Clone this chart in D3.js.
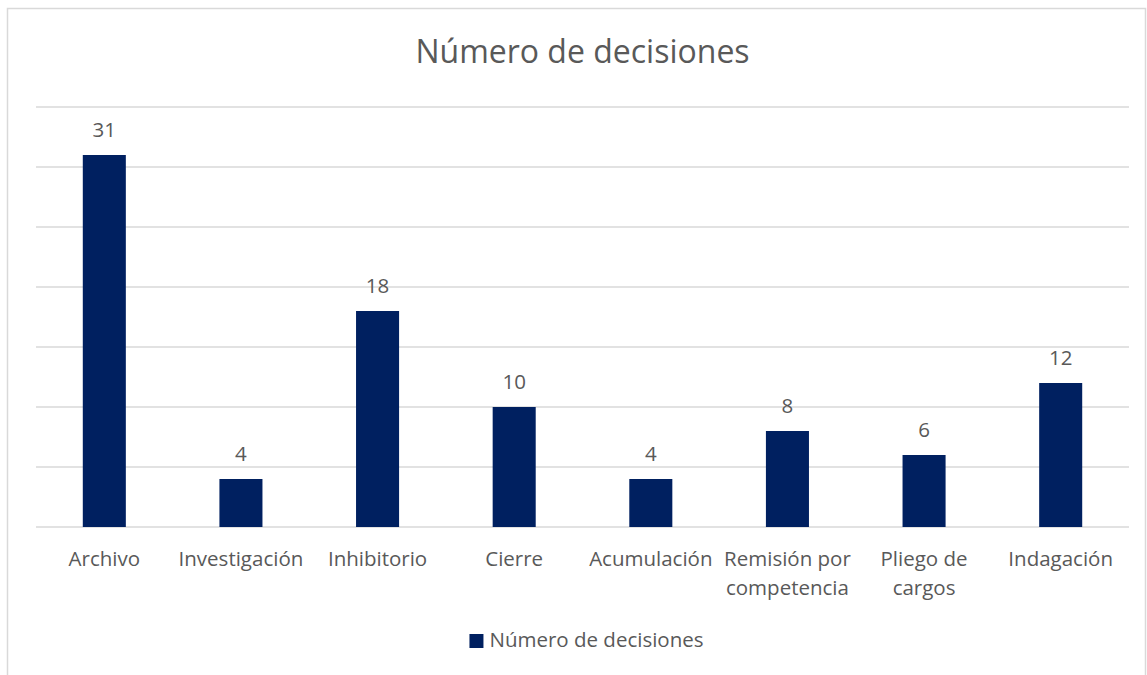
<!DOCTYPE html>
<html>
<head>
<meta charset="utf-8">
<script src="https://cdn.jsdelivr.net/npm/d3@7"></script>
<style>
	body { margin: 0; background: #fff; }
	text { font-family: "Open Sans", sans-serif; fill: #595959; }
</style>
</head>
<body>
<script>
(function () {
	"use strict";

	var categories = [
		["Archivo"],
		["Investigación"],
		["Inhibitorio"],
		["Cierre"],
		["Acumulación"],
		["Remisión por", "competencia"],
		["Pliego de", "cargos"],
		["Indagación"]
	];
	var values = [31, 4, 18, 10, 4, 8, 6, 12];
	var yTicks = [0, 5, 10, 15, 20, 25, 30, 35];
	var title = "Número de decisiones";
	var seriesName = "Número de decisiones";

	var w = 1147, h = 675;
	var left = 36, right = 1129, top = 107, bottom = 527;
	var barColor = "#002060";

	var svg = d3.select("body").append("svg")
		.attr("width", w)
		.attr("height", h);

	// chart frame
	svg.append("rect")
		.attr("x", 7.5).attr("y", 8.5)
		.attr("width", 1138).attr("height", 680)
		.attr("fill", "none")
		.attr("stroke", "#d9d9d9")
		.attr("stroke-width", 1.5);

	var xScale = d3.scaleBand()
		.domain(d3.range(categories.length))
		.range([left, right])
		.padding(0);

	var yScale = d3.scaleLinear()
		.domain([0, 35])
		.range([bottom, top]);

	svg.append("text")
		.attr("x", (left + right) / 2)
		.attr("y", 63)
		.attr("text-anchor", "middle")
		.style("font-size", "32px")
		.text(title);

	svg.append("g").selectAll("line")
		.data(yTicks)
		.enter().append("line")
		.attr("x1", left).attr("x2", right)
		.attr("y1", (d) => yScale(d)).attr("y2", (d) => yScale(d))
		.attr("stroke", "#d9d9d9")
		.attr("stroke-width", 1.5);

	var barW = xScale.bandwidth() * 0.315;

	svg.append("g").selectAll("rect")
		.data(values)
		.enter().append("rect")
		.attr("x", (d, i) => xScale(i) + xScale.bandwidth() / 2 - barW / 2)
		.attr("y", (d) => yScale(d))
		.attr("width", barW)
		.attr("height", (d) => yScale(0) - yScale(d))
		.attr("fill", barColor);

	svg.append("g").selectAll("text")
		.data(values)
		.enter().append("text")
		.attr("x", (d, i) => xScale(i) + xScale.bandwidth() / 2)
		.attr("y", (d) => yScale(d) - 18)
		.attr("text-anchor", "middle")
		.style("font-size", "20.5px")
		.text((d) => d);

	var cat = svg.append("g").selectAll("text")
		.data(categories)
		.enter().append("text")
		.attr("x", (d, i) => xScale(i) + xScale.bandwidth() / 2)
		.attr("y", 566)
		.attr("text-anchor", "middle")
		.style("font-size", "20.5px");
	cat.selectAll("tspan")
		.data((d) => d)
		.enter().append("tspan")
		.attr("x", function () { return d3.select(this.parentNode).attr("x"); })
		.attr("dy", (d, i) => i ? 29 : 0)
		.text((d) => d);

	// legend
	var legend = svg.append("g");
	var lt = legend.append("text")
		.attr("y", 647)
		.style("font-size", "20.5px")
		.text(seriesName);
	var tw = lt.node().getComputedTextLength();
	var lx = (left + right) / 2 + 4 - (tw + 20) / 2;
	legend.append("rect")
		.attr("x", lx).attr("y", 634)
		.attr("width", 14).attr("height", 14)
		.attr("fill", barColor);
	lt.attr("x", lx + 20);
})();
</script>
</body>
</html>
